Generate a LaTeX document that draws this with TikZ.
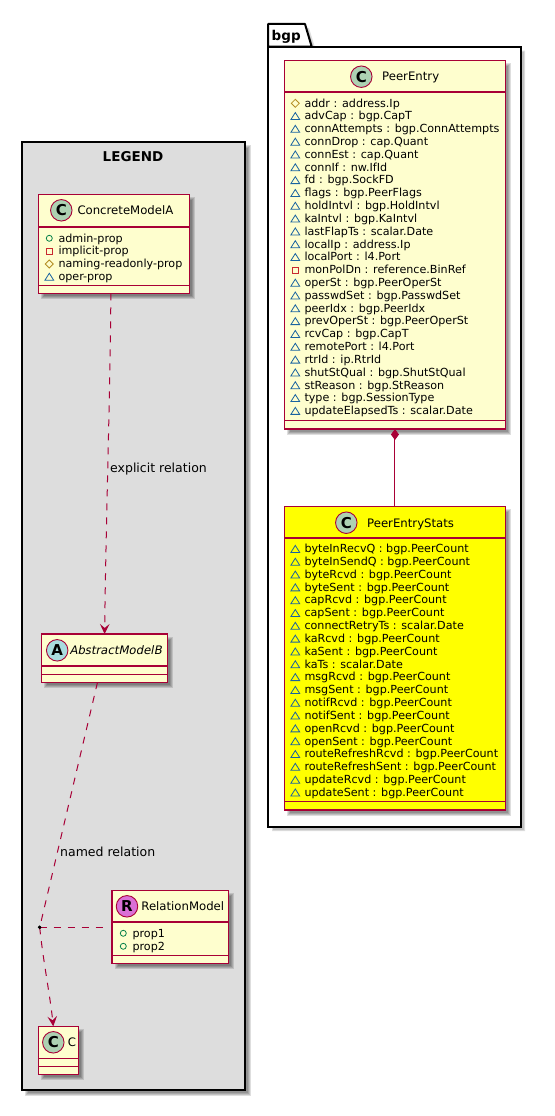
\documentclass[tikz,border=0pt]{standalone}
\usepackage{fontspec}
\setmainfont{DejaVu Sans}
\usetikzlibrary{arrows.meta,calc}
\definecolor{umlborder}{HTML}{A80036}
\definecolor{umlfill}{HTML}{FEFECE}
\definecolor{legendfill}{HTML}{DDDDDD}
\definecolor{statsfill}{HTML}{FFFF00}
\definecolor{circC}{HTML}{ADD1B2}
\definecolor{circA}{HTML}{A9DCDF}
\definecolor{circR}{HTML}{DA70D6}
\definecolor{mkgreen}{HTML}{038048}
\definecolor{mkred}{HTML}{C82930}
\definecolor{mkgold}{HTML}{B38D22}
\definecolor{mkblue}{HTML}{1963A0}
\tikzset{
  umlbox/.style={draw=umlborder,line width=1.5pt,rectangle,inner sep=0pt,outer sep=0pt,anchor=north west,fill=umlfill},
  frame/.style={draw=black,line width=2pt,rectangle,inner sep=0pt,outer sep=0pt,anchor=north west},
  sepline/.style={draw=umlborder,line width=1.3pt},
  title/.style={anchor=base west,inner sep=0pt,font=\fontsize{11.7}{14}\selectfont},
  attr/.style={anchor=base west,inner sep=0pt,font=\fontsize{11.15}{13}\selectfont},
  relabel/.style={anchor=base west,inner sep=0pt,font=\fontsize{12.5}{15}\selectfont},
  badge/.style={circle,draw=umlborder,line width=0.9pt,minimum size=21.5pt,inner sep=0pt,font=\fontsize{15}{15}\bfseries\selectfont},
  conn/.style={draw=umlborder,line width=1pt},
  dashconn/.style={conn,dash pattern=on 7pt off 7pt},
  tip/.style={-{Stealth[length=10pt,width=9.5pt,inset=4pt,fill=umlborder]}},
}
\newcommand{\mkp}[2]{\draw[mkgreen,line width=0.8pt] (#1,#2) circle[radius=3];}
\newcommand{\mkm}[2]{\draw[mkred,line width=0.8pt] (#1-3,#2-3) rectangle (#1+3,#2+3);}
\newcommand{\mkh}[2]{\draw[mkgold,line width=0.8pt] (#1,#2-4) -- (#1+4,#2) -- (#1,#2+4) -- (#1-4,#2) -- cycle;}
\newcommand{\mkt}[2]{\draw[mkblue,line width=0.8pt] (#1,#2-3.6) -- (#1+4.4,#2+3.4) -- (#1-4.4,#2+3.4) -- cycle;}
\newcommand{\softshadow}[4]{%
  \foreach \g in {-1.5,-0.5,0.5,1.5}{
    \fill[black,opacity=0.13] (#1+4-\g,#2+4-\g) rectangle (#3+4+\g,#4+4+\g);
  }}
\newcommand{\classbox}[8]{%
  \softshadow{#2}{#3}{#4}{#5}
  \node[umlbox,fill=#8,minimum width=#4 pt-#2 pt,minimum height=#5 pt-#3 pt] (#1) at (#2,#3) {};
  \draw[sepline] (#2,#6) -- (#4,#6);
  \draw[sepline] (#2,#7) -- (#4,#7);
}
\newcommand{\attrs}[5]{%
  \foreach \m/\t [count=\i from 0] in {#5}{
    \pgfmathsetmacro{\ry}{#3+\i*#4}
    \csname mk\m\endcsname{#2-9}{\ry}
    \node[attr] (#1-\i) at (#2,\ry+3.7) {\t};
  }}
\begin{document}
\begin{tikzpicture}[x=1pt,y=-1pt]
\useasboundingbox (0,0) rectangle (554,1116);
\fill[white] (0,0) rectangle (554,1116);

% LEGEND frame
\softshadow{22}{142}{245}{1090}
\node[frame,fill=legendfill,minimum width=223pt,minimum height=948pt] (legend) at (22,142) {};
\node[anchor=base,inner sep=0pt,font=\fontsize{13.5}{16}\bfseries\selectfont] (legendtitle) at (133,161) {LEGEND};

% bgp package
\fill[black,opacity=0.13] (272,28) -- (309,28) -- (316,50.7) -- (525,50.7) -- (525,831) -- (272,831) -- cycle;
\fill[black,opacity=0.13] (273,29) -- (308,29) -- (315,51.7) -- (524,51.7) -- (524,830) -- (273,830) -- cycle;
\fill[white] (268,46.7) rectangle (520.7,827);
\node[frame,minimum width=252.7pt,minimum height=780.3pt] (bgp) at (268,46.7) {};
\draw[black,line width=2pt,fill=white,line join=round] (268,46.7) -- (268,24) -- (305,24) -- (311.7,46.7) -- cycle;
\node[anchor=base west,inner sep=0pt,font=\fontsize{13.5}{16}\bfseries\selectfont] (bgptitle) at (271.5,41) {bgp};

% ConcreteModelA
\classbox{cma}{38.3}{194.3}{189.5}{293.3}{227}{285.3}{umlfill}
\node[badge,fill=circC] (cmab) at (61.3,210.3) {C};
\node[title] (cmat) at (77.3,214.6) {ConcreteModelA};
\attrs{cmaa}{58.3}{238.3}{12.85}{p/admin-prop,m/implicit-prop,h/naming-readonly-prop,t/oper-prop}

% AbstractModelB
\classbox{amb}{41.3}{634}{167.3}{682.3}{666}{674.3}{umlfill}
\node[badge,fill=circA] (ambb) at (57.2,650.3) {A};
\node[title] (ambt) at (69.3,654.6) {\fontspec{DejaVu Sans}[ItalicFont=*,FakeSlant=0.2]AbstractModelB};

% RelationModel
\classbox{rm}{112.2}{890.3}{228.3}{963.3}{922}{955.3}{umlfill}
\node[badge,fill=circR] (rmb) at (127,906.3) {R};
\node[title] (rmt) at (141.2,910.6) {RelationModel};
\attrs{rma}{132.3}{933.3}{13}{p/prop1,p/prop2}

% C
\classbox{cc}{38.3}{1026.3}{78.3}{1074.3}{1058.3}{1066.7}{umlfill}
\node[badge,fill=circC] (ccb) at (53.3,1042.3) {C};
\node[title] (cct) at (67.6,1046.6) {C};

% PeerEntry
\classbox{pe}{284.3}{60.7}{505.6}{429}{92}{420.3}{umlfill}
\node[badge,fill=circC] (peb) at (361.3,76.7) {C};
\node[title] (pet) at (382,81) {PeerEntry};
\attrs{pea}{304.3}{103.3}{12.82}{h/addr : address.Ip,t/advCap : bgp.CapT,t/connAttempts : bgp.ConnAttempts,t/connDrop : cap.Quant,t/connEst : cap.Quant,t/connIf : nw.IfId,t/fd : bgp.SockFD,t/flags : bgp.PeerFlags,t/holdIntvl : bgp.HoldIntvl,t/kaIntvl : bgp.KaIntvl,t/lastFlapTs : scalar.Date,t/localIp : address.Ip,t/localPort : l4.Port,m/monPolDn : reference.BinRef,t/operSt : bgp.PeerOperSt,t/passwdSet : bgp.PasswdSet,t/peerIdx : bgp.PeerIdx,t/prevOperSt : bgp.PeerOperSt,t/rcvCap : bgp.CapT,t/remotePort : l4.Port,t/rtrId : ip.RtrId,t/shutStQual : bgp.ShutStQual,t/stReason : bgp.StReason,t/type : bgp.SessionType,t/updateElapsedTs : scalar.Date}

% PeerEntryStats
\classbox{pes}{284.3}{506.3}{505.6}{810}{538}{801.3}{statsfill}
\node[badge,fill=circC] (pesb) at (346.3,522.7) {C};
\node[title] (pest) at (367,527) {PeerEntryStats};
\attrs{pesa}{304.3}{549}{12.82}{t/byteInRecvQ : bgp.PeerCount,t/byteInSendQ : bgp.PeerCount,t/byteRcvd : bgp.PeerCount,t/byteSent : bgp.PeerCount,t/capRcvd : bgp.PeerCount,t/capSent : bgp.PeerCount,t/connectRetryTs : scalar.Date,t/kaRcvd : bgp.PeerCount,t/kaSent : bgp.PeerCount,t/kaTs : scalar.Date,t/msgRcvd : bgp.PeerCount,t/msgSent : bgp.PeerCount,t/notifRcvd : bgp.PeerCount,t/notifSent : bgp.PeerCount,t/openRcvd : bgp.PeerCount,t/openSent : bgp.PeerCount,t/routeRefreshRcvd : bgp.PeerCount,t/routeRefreshSent : bgp.PeerCount,t/updateRcvd : bgp.PeerCount,t/updateSent : bgp.PeerCount}

% connectors
\draw[conn,{Diamond[length=11pt,width=8pt,fill=umlborder]}-] (pe.south) -- (pes.north);
\draw[dashconn,tip] ([xshift=-3pt]cma.south) .. controls (110,400) and (106,520) .. ([xshift=0.3pt]amb.north);
\node[circle,fill=black,inner sep=0pt,minimum size=3.6pt] (dot) at (39.7,927.3) {};
\draw[dashconn] ([xshift=-6.8pt]amb.south) -- (dot.center);
\draw[dashconn,tip] (dot.center) .. controls (43,960) and (50,995) .. ([xshift=-5pt]cc.north);
\draw[dashconn] (dot.center) -- ([xshift=-6pt]rm.west |- dot.center);
\fill[black] (dot) circle[radius=1.8];

\node[relabel] (lblexp) at (110,472) {explicit relation};
\node[relabel] (lblnam) at (60,856) {named relation};
\end{tikzpicture}
\end{document}
